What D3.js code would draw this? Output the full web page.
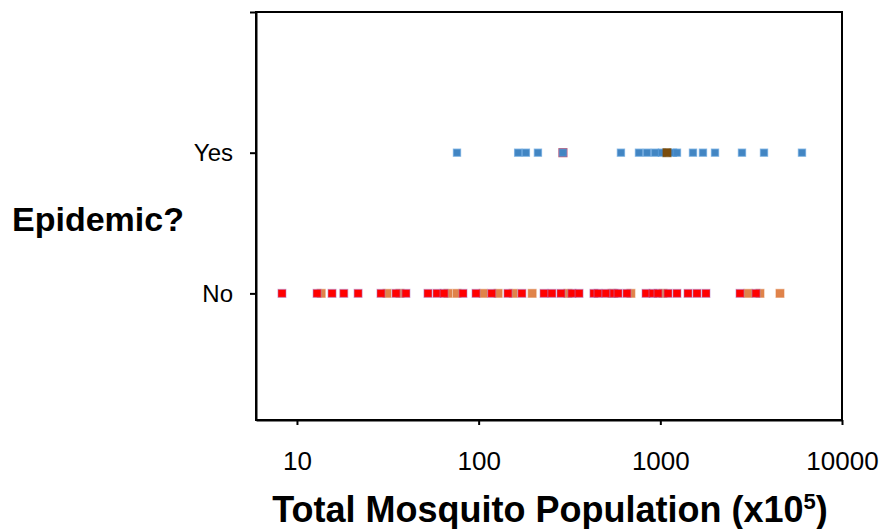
<!DOCTYPE html>
<html>
<head>
<meta charset="utf-8">
<script src="https://cdn.jsdelivr.net/npm/d3@7"></script>
<style>
  body { margin: 0; background: #fff; }
  svg { display: block; font-family: "Liberation Sans", Arial, sans-serif; }
</style>
</head>
<body>
<div id="chart"></div>
<script>
// Epidemic = Yes (row 1)
const yesBlue = [76, 165, 182, 212, 291, 607, 763, 845, 935, 1021, 1174, 1235, 1513, 1717, 2000, 2815, 3721, 6022];
const yesRed = [291];
const yesBrown = [1088];
// Epidemic = No (row 0)
const noOrange = [13.6, 31.3, 36.9, 67.8, 76, 106, 128, 155, 197, 310, 542, 689, 1034, 3038, 3537, 4557];
const noRed = [8.27, 12.9, 15.6, 18.1, 21.7, 29.0, 35.1, 39.8, 52.6, 59.0, 64.5, 82.0, 96.7, 118, 145, 173,
  229, 253, 284, 326, 357, 431, 454, 502, 556, 585, 655, 834, 911, 971, 1102, 1235, 1420, 1591, 1784, 2745, 3362];

const xTicks = [10, 100, 1000, 10000];
const yTicks = [0, 1, 2];
const yLabels = ["No", "Yes", ""];

const W = 892, H = 529;
const margin = { top: 12, right: 50, bottom: 109, left: 256 };
const width = W - margin.left - margin.right;
const height = H - margin.top - margin.bottom;

const svg = d3.select("#chart").append("svg")
  .attr("width", W)
  .attr("height", H);

const g = svg.append("g")
  .attr("transform", `translate(${margin.left},${margin.top})`);

const x = d3.scaleLog().domain([5.95, 10000]).range([0, width]);
const y = d3.scaleLinear().domain([-0.9, 2]).range([height, 0]);

// plot frame
g.append("rect")
  .attr("width", width)
  .attr("height", height)
  .style("fill", "none")
  .style("stroke", "#000")
  .style("stroke-width", 2);

// axes
const xAxis = g.append("g")
  .attr("transform", `translate(0,${height})`)
  .call(d3.axisBottom(x).tickValues(xTicks).tickFormat(d3.format("d"))
    .tickSize(5).tickSizeOuter(0).tickPadding(27));
xAxis.select(".domain").style("stroke-width", 2);
xAxis.selectAll(".tick line").style("stroke-width", 2);
xAxis.selectAll("text").style("font-size", "26px").style("fill", "#000");

const yAxis = g.append("g")
  .call(d3.axisLeft(y).tickValues(yTicks).tickFormat((d, i) => yLabels[i])
    .tickSize(6).tickSizeOuter(0).tickPadding(17));
yAxis.select(".domain").style("stroke-width", 2);
yAxis.selectAll(".tick line").style("stroke-width", 2);
yAxis.selectAll("text").style("font-size", "24px").style("fill", "#000");

// markers
const S = 8;
function squares(data, row, fill, stroke) {
  g.append("g").selectAll("rect")
    .data(data)
    .join("rect")
    .attr("x", d => x(d) - S / 2)
    .attr("y", y(row) - S / 2)
    .attr("width", S)
    .attr("height", S)
    .style("fill", fill)
    .style("stroke", stroke)
    .style("stroke-width", 1.2);
}

squares(noOrange, 0, "#e0834a", "rgba(224,131,74,0.5)");
squares(noRed, 0, "#ff0000", "rgba(170,120,200,0.45)");
squares(yesRed, 1, "#d9506a", "rgba(200,60,90,0.8)");
g.append("g").selectAll("rect")
  .data(yesBlue)
  .join("rect")
  .attr("x", d => x(d) - S / 2 + 0.5)
  .attr("y", y(1) - S / 2 + 0.5)
  .attr("width", S - 1)
  .attr("height", S - 1)
  .style("fill", "#4285c2")
  .style("stroke", "rgba(80,150,215,0.6)")
  .style("stroke-width", 1.4);
squares(yesBrown, 1, "#7a4c0c", "rgba(122,76,12,0.6)");

// axis titles
svg.append("text")
  .attr("x", 12)
  .attr("y", 231)
  .style("font-size", "34px")
  .style("font-weight", "bold")
  .text("Epidemic?");

const xt = svg.append("text")
  .attr("x", 550)
  .attr("y", 522)
  .attr("text-anchor", "middle")
  .style("font-size", "36px")
  .style("font-weight", "bold");
xt.append("tspan").text("Total Mosquito Population (x10");
xt.append("tspan").attr("dy", -13).style("font-size", "22px").text("5");
xt.append("tspan").attr("dy", 13).text(")");
</script>
</body>
</html>
